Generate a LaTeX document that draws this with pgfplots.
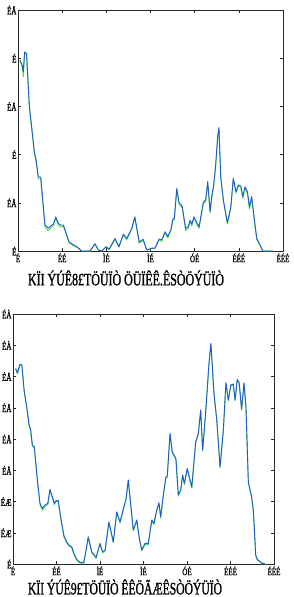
\documentclass[border=0pt]{standalone}
\usepackage{fontspec}
\setmainfont{Liberation Serif}
\newfontfamily\garb[FakeStretch=0.62]{Liberation Serif}
\newfontfamily\garbb[FakeStretch=0.7, FakeBold=1.2]{Liberation Serif}
\usepackage{graphicx}
\usepackage{pgfplots}
\pgfplotsset{compat=1.18}
\definecolor{lblue}{RGB}{35,88,212}
\definecolor{lgreen}{RGB}{70,225,70}
\definecolor{axgray}{RGB}{40,40,40}
\pgfplotsset{
  myax/.style={
    scale only axis,
    axis line style={axgray, line width=0.6pt},
    tick style={axgray, line width=0.5pt},
    tick align=inside,
    major tick length=3pt,
    xmin=0, xmax=120,
    xtick={0,20,...,120},
    xticklabels={É,ÉÉ,ÌÉ,ÌÉ,ÓÉ,ÉÉÉ,ÉÉÉ},
    tick label style={font=\garbb\fontsize{10}{10}\selectfont, text=black},
    xticklabel style={yshift=1pt},
    yticklabel style={xshift=2pt},
    every axis plot/.append style={line width=0.9pt, line join=round},
  }
}
\begin{document}
\begin{tikzpicture}
\useasboundingbox (0,0) rectangle (293pt,-597pt);
\begin{axis}[myax, at={(18pt,-251pt)}, anchor=south west, width=265pt, height=241pt,
  ymin=0, ymax=5, ytick={0,...,5}, yticklabels={É,ÉÅ,É,ÉÅ,É,ÉÅ}]
\addplot[lgreen] coordinates {
(0.9,3.94)(1.9,3.82)(2.4,3.62)(3.0,4.11)(3.9,4.07)(5.1,3.01)(7.4,2.03)(8.2,1.86)(9.2,1.50)(10.3,1.50)
(12.2,0.50)(13.7,0.42)(15.3,0.50)(16.0,0.52)(17.1,0.68)(18.3,0.53)(19.3,0.50)(20.5,0.52)(21.3,0.42)
(23.1,0.17)(24.3,0.13)(26.9,0.07)(28.8,0)(32.6,0)(34.9,0.14)(36.4,0.02)(37.9,0)(39.9,0.08)(41.3,0.03)
(43.9,0.24)(45.7,0.08)(47.7,0.33)(49.2,0.23)(51.5,0.45)(52.9,0.69)(54.9,0.16)(56.7,0.22)(58.3,0.02)
(60.6,0.05)(62.0,0.05)(63.9,0.23)(65.1,0.20)(66.6,0.38)(67.8,0.27)(69.2,0.42)(70.1,0.63)(70.8,0.65)
(71.9,1.27)(72.9,0.98)(74.4,0.89)(75.9,0.42)(77.1,0.47)(77.9,0.61)(78.7,0.52)(79.7,0.68)(80.9,0.56)
(82.0,0.47)(83.2,0.79)(83.9,0.98)(85.0,1.03)(85.9,1.41)(87.0,0.79)(87.7,1.10)(88.5,1.30)(89.5,1.75)
(90.4,2.34)(91.0,2.53)(91.8,1.51)(93.0,1.03)(94.8,0.56)(96.3,0.86)(97.5,1.48)(98.7,1.20)(99.8,1.34)
(100.9,1.32)(101.8,1.09)(102.8,1.30)(103.9,1.19)(104.8,0.87)(105.8,1.10)(106.9,0.68)(108.1,0.24)
(109.3,0.14)(110.8,0)(115.4,0)
};
\addplot[lblue] coordinates {
(0.9,3.96)(1.9,3.86)(2.4,3.72)(3.0,4.13)(3.9,4.09)(5.1,3.03)(7.4,2.06)(8.2,1.89)(9.2,1.54)(10.3,1.53)
(12.2,0.54)(13.7,0.47)(15.3,0.54)(16.0,0.55)(17.1,0.71)(18.3,0.57)(19.3,0.54)(20.5,0.54)(21.3,0.44)
(23.1,0.19)(24.3,0.15)(26.9,0.08)(28.8,0)(32.6,0)(34.9,0.15)(36.4,0.02)(37.9,0)(39.9,0.09)(41.3,0.04)
(43.9,0.26)(45.7,0.09)(47.7,0.35)(49.2,0.26)(51.5,0.47)(52.9,0.71)(54.9,0.19)(56.7,0.24)(58.3,0.02)
(60.6,0.06)(62.0,0.06)(63.9,0.25)(65.1,0.23)(66.6,0.40)(67.8,0.30)(69.2,0.44)(70.1,0.66)(70.8,0.68)
(71.9,1.30)(72.9,1.01)(74.4,0.92)(75.9,0.47)(77.1,0.50)(77.9,0.64)(78.7,0.56)(79.7,0.71)(80.9,0.59)
(82.0,0.50)(83.2,0.82)(83.9,1.01)(85.0,1.06)(85.9,1.44)(87.0,0.82)(87.7,1.13)(88.5,1.33)(89.5,1.78)
(90.4,2.37)(91.0,2.56)(91.8,1.54)(93.0,1.06)(94.8,0.59)(96.3,0.89)(97.5,1.51)(98.7,1.23)(99.8,1.37)
(100.9,1.35)(101.8,1.13)(102.8,1.33)(103.9,1.23)(104.8,0.92)(105.8,1.13)(106.9,0.71)(108.1,0.26)
(109.3,0.16)(110.8,0)(115.4,0)
};
\end{axis}
\node[anchor=center, inner sep=0pt] at (126pt,-278pt) {\resizebox{196pt}{15pt}{\garbb KÏI ÝÚÊ8£TÖÜÏÒ ÖÜÏÊÊ.ÊSÒÖÝÜÏÒ}};
\begin{axis}[myax, at={(13pt,-564pt)}, anchor=south west, width=261pt, height=250pt,
  ymin=0, ymax=8, ytick={0,...,8}, yticklabels={É,ÉÆ,ÉÆ,ÉÅ,ÉÅ,ÉÅ,ÉÅ,ÉÀ,ÉÀ}]
\addplot[lgreen] coordinates {
(1.2,6.23)(2.0,6.09)(3.2,6.36)(4.1,6.34)(5.1,5.54)(6.3,5.00)(7.4,4.42)(8.1,4.27)(8.9,3.76)(9.8,3.72)
(11.2,2.66)(12.4,1.90)(13.5,1.72)(14.7,1.85)(16.0,1.90)(17.0,2.36)(18.1,2.11)(19.0,1.90)(19.8,2.00)
(20.8,2.00)(21.9,1.48)(23.4,0.87)(24.7,0.67)(25.7,0.58)(27.0,0.52)(28.0,0.31)(29.3,0.12)(30.8,0.03)
(32.6,0.03)(34.6,0.84)(36.2,0.36)(38.2,0.18)(40.0,0.63)(41.2,0.36)(42.3,0.40)(44.1,1.32)(46.1,0.68)
(47.7,1.64)(49.2,1.31)(52.0,2.07)(53.0,2.66)(55.3,1.06)(56.9,1.38)(58.1,0.79)(59.2,0.42)(60.7,0.62)
(62.2,0.62)(63.8,1.38)(64.8,1.26)(66.1,1.70)(67.1,1.93)(67.9,1.47)(69.1,2.18)(70.3,2.75)(70.9,2.76)
(72.2,4.15)(73.2,3.56)(74.9,3.35)(76.0,2.17)(77.1,2.34)(78.0,2.82)(78.8,2.54)(80.1,3.03)(82.2,2.43)
(84.0,3.88)(85.2,4.15)(86.3,4.90)(87.2,3.62)(88.7,4.95)(90.1,6.39)(91.0,7.03)(92.4,5.43)(93.7,4.58)
(95.2,3.08)(96.7,4.26)(97.9,5.77)(99.0,5.22)(100.1,5.70)(101.3,5.73)(102.1,5.22)(103.1,5.88)
(104.0,5.77)(105.1,4.92)(106.2,5.77)(107.1,5.00)(108.2,2.60)(109.7,2.12)(110.5,1.70)(111.6,0.26)
(112.3,0.12)(114.5,0.02)(115.9,0)
};
\addplot[lblue] coordinates {
(1.2,6.26)(2.0,6.12)(3.2,6.39)(4.1,6.37)(5.1,5.57)(6.3,5.03)(7.4,4.45)(8.1,4.31)(8.9,3.81)(9.8,3.75)
(11.2,2.69)(12.4,1.94)(13.5,1.78)(14.7,1.89)(16.0,1.94)(17.0,2.39)(18.1,2.15)(19.0,1.94)(19.8,2.03)
(20.8,2.03)(21.9,1.51)(23.4,0.91)(24.7,0.71)(25.7,0.61)(27.0,0.55)(28.0,0.34)(29.3,0.15)(30.8,0.05)
(32.6,0.05)(34.6,0.87)(36.2,0.39)(38.2,0.21)(40.0,0.66)(41.2,0.39)(42.3,0.43)(44.1,1.35)(46.1,0.71)
(47.7,1.67)(49.2,1.35)(52.0,2.10)(53.0,2.69)(55.3,1.09)(56.9,1.41)(58.1,0.82)(59.2,0.45)(60.7,0.66)
(62.2,0.66)(63.8,1.41)(64.8,1.30)(66.1,1.73)(67.1,1.96)(67.9,1.51)(69.1,2.21)(70.3,2.79)(70.9,2.79)
(72.2,4.18)(73.2,3.59)(74.9,3.38)(76.0,2.21)(77.1,2.37)(78.0,2.85)(78.8,2.58)(80.1,3.06)(82.2,2.47)
(84.0,3.91)(85.2,4.18)(86.3,4.93)(87.2,3.65)(88.7,4.98)(90.1,6.42)(91.0,7.06)(92.4,5.46)(93.7,4.61)
(95.2,3.11)(96.7,4.29)(97.9,5.80)(99.0,5.25)(100.1,5.73)(101.3,5.76)(102.1,5.25)(103.1,5.91)
(104.0,5.80)(105.1,4.95)(106.2,5.80)(107.1,5.03)(108.2,2.63)(109.7,2.15)(110.5,1.73)(111.6,0.29)
(112.3,0.15)(114.5,0.03)(115.9,0)
};
\end{axis}
\node[anchor=center, inner sep=0pt] at (125pt,-587pt) {\resizebox{194pt}{15pt}{\garbb KÏI ÝÚÊ9£TÖÜÏÒ ÊÊÖÃÆÊSÒÖÝÜÏÒ}};
\end{tikzpicture}
\end{document}
